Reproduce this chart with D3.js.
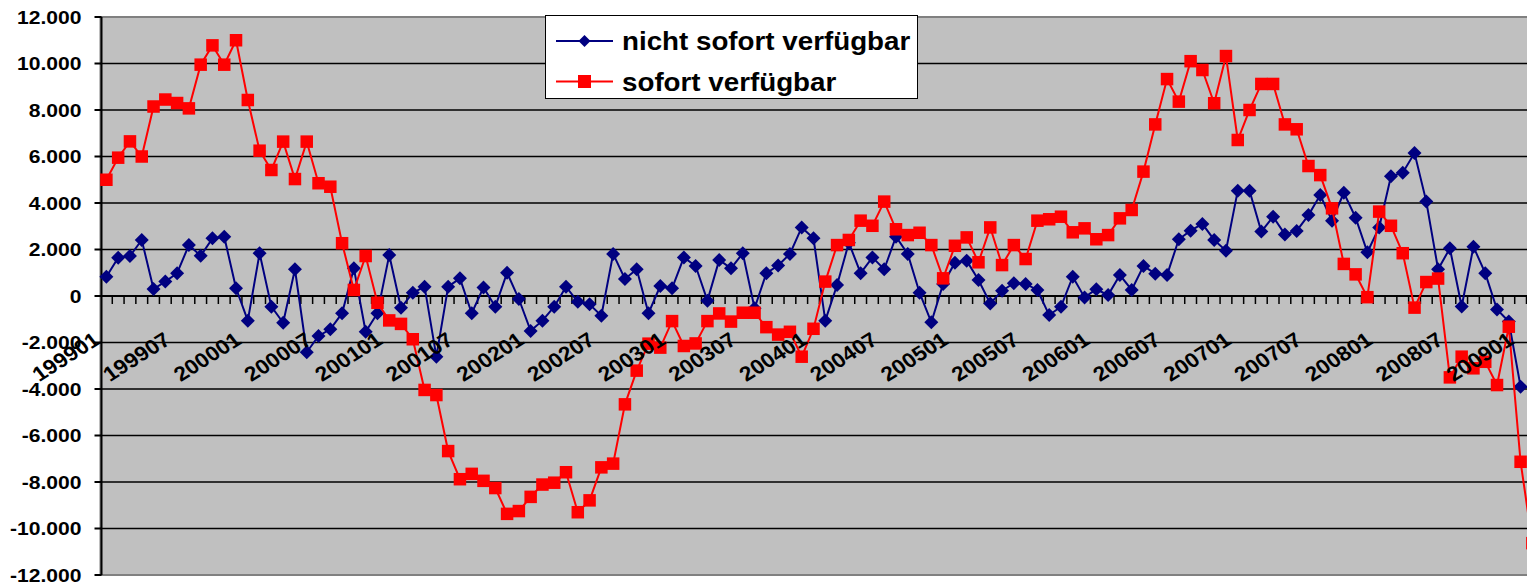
<!DOCTYPE html>
<html>
<head>
<meta charset="utf-8">
<script src="https://cdn.jsdelivr.net/npm/d3@7"></script>
<style>
  body { margin: 0; background: #fff; }
  text { font-family: "Liberation Sans", Arial, sans-serif; font-weight: bold; fill: #000; }
</style>
</head>
<body>
<div id="chart"></div>
<script>
// monthly categories 199901 .. 200902
const months = d3.timeMonth.range(new Date(1999, 0, 1), new Date(2009, 2, 1)).map(d3.timeFormat("%Y%m"));

const xTickLabels = ["199901", "199907", "200001", "200007", "200101", "200107", "200201", "200207",
  "200301", "200307", "200401", "200407", "200501", "200507", "200601", "200607",
  "200701", "200707", "200801", "200807", "200901"];

const yTicks = [-12000, -10000, -8000, -6000, -4000, -2000, 0, 2000, 4000, 6000, 8000, 10000, 12000];

const seriesNames = ["nicht sofort verfügbar", "sofort verfügbar"];

// nicht sofort verfügbar (199901 .. 200901)
const nichtSofort = [
  830, 1650, 1720, 2410, 300, 620, 980, 2190, 1730, 2480, 2550, 330,
  -1060, 1840, -460, -1150, 1150, -2420, -1720, -1430, -740, 1190, -1540, -740,
  1760, -510, 140, 400, -2610, 400, 760, -740, 370, -460, 1000, -130,
  -1500, -1060, -460, 400, -250, -360, -850, 1810, 730, 1150, -740, 430,
  330, 1660, 1290, -200, 1550, 1190, 1840, -530, 980, 1310, 1810, 2950,
  2480, -1060, 470, 2290, 980, 1660, 1150, 2550, 1810, 140, -1130, 520,
  1430, 1520, 690, -320, 230, 550, 520, 260, -820, -460, 830, -60,
  290, 40, 900, 260, 1290, 960, 900, 2440, 2810, 3100, 2410, 1950,
  4530, 4530, 2770, 3410, 2650, 2800, 3480, 4340, 3240, 4440, 3370, 1880,
  2950, 5150, 5300, 6150, 4060, 1150, 2050, -450, 2120, 980, -580, -1100,
  -3900
];

// sofort verfügbar (199901 .. 200902)
const sofort = [
  5000, 5950, 6650, 6000, 8150, 8450, 8300, 8070, 9950, 10780, 9950, 11000,
  8430, 6250, 5420, 6640, 5030, 6640, 4850, 4700, 2270, 260, 1720, -290,
  -1050, -1200, -1860, -4040, -4260, -6670, -7880, -7650, -7950, -8260, -9370, -9250,
  -8640, -8110, -8030, -7580, -9300, -8790, -7370, -7210, -4660, -3210, -2050, -2220,
  -1080, -2150, -2040, -1080, -750, -1100, -720, -720, -1340, -1660, -1540, -2610,
  -1410, 620, 2190, 2410, 3240, 3020, 4060, 2870, 2620, 2720, 2190, 760,
  2160, 2520, 1450, 2950, 1330, 2190, 1590, 3240, 3300, 3410, 2740, 2910,
  2440, 2620, 3340, 3700, 5350, 7380, 9330, 8360, 10100, 9720, 8290, 10320,
  6710, 8000, 9120, 9120, 7380, 7170, 5590, 5200, 3770, 1380, 930, -50,
  3630, 3020, 1840, -500, 600, 750, -3500, -2610, -3110, -2830, -3830, -1320,
  -7130, -10630
];

const width = 1527, height = 587;
const plot = {left: 100.5, top: 17, bottom: 575, step: 11.785};
const stretch = 1.11; // text in the picture is a bit wider than tall

const de = d3.formatLocale({decimal: ",", thousands: ".", grouping: [3], currency: ["", " €"], minus: "-"});
const fmt = de.format(",");

const svg = d3.select("#chart").append("svg")
  .attr("width", width)
  .attr("height", height);

const x = d3.scaleBand()
  .domain(months)
  .range([plot.left, plot.left + months.length * plot.step])
  .padding(0);

const y = d3.scaleLinear()
  .domain([-12000, 12000])
  .range([plot.bottom, plot.top]);

const cx = d => x(d) + x.bandwidth() / 2;
const plotRight = x.range()[1];

// plot area
svg.append("rect")
  .attr("x", plot.left)
  .attr("y", plot.top)
  .attr("width", plotRight - plot.left)
  .attr("height", plot.bottom - plot.top)
  .attr("fill", "#c0c0c0")
  .attr("stroke", "#808080")
  .attr("stroke-width", 2);

// gridlines
svg.append("g").selectAll("line")
  .data(yTicks.filter(v => v > -12000 && v < 12000))
  .enter().append("line")
  .attr("x1", plot.left)
  .attr("x2", plotRight)
  .attr("y1", d => y(d))
  .attr("y2", d => y(d))
  .attr("stroke", "#000")
  .attr("stroke-width", 1.6);

// y axis
const yAxis = svg.append("g").attr("transform", `translate(${plot.left + 1},0)`);
yAxis.append("line")
  .attr("y1", plot.top).attr("y2", plot.bottom)
  .attr("stroke", "#000").attr("stroke-width", 2);
yAxis.selectAll(".tick").data(yTicks).enter().append("line")
  .attr("x1", -7).attr("x2", 0)
  .attr("y1", d => y(d)).attr("y2", d => y(d))
  .attr("stroke", "#000").attr("stroke-width", 2);
yAxis.selectAll("text").data(yTicks).enter().append("text")
  .attr("transform", d => `translate(-20,${y(d) + 6.8}) scale(${stretch},1)`)
  .attr("text-anchor", "end")
  .style("font-size", "19px")
  .text(d => fmt(d));

// x axis at zero
const xAxis = svg.append("g");
xAxis.append("line")
  .attr("x1", plot.left).attr("x2", plotRight)
  .attr("y1", y(0)).attr("y2", y(0))
  .attr("stroke", "#000").attr("stroke-width", 2);
xAxis.selectAll("line.tick").data(months).enter().append("line")
  .attr("class", "tick")
  .attr("x1", d => x(d) + x.bandwidth()).attr("x2", d => x(d) + x.bandwidth())
  .attr("y1", y(0)).attr("y2", y(0) + 8)
  .attr("stroke", "#000").attr("stroke-width", 1.5);

// series
const line = d3.line()
  .x((d, i) => cx(months[i]))
  .y(d => y(d));

svg.append("path")
  .datum(nichtSofort)
  .attr("d", line)
  .attr("fill", "none")
  .attr("stroke", "#000080")
  .attr("stroke-width", 2);

const diamond = "M0,-7L7,0L0,7L-7,0Z";
svg.append("g").selectAll("path")
  .data(nichtSofort)
  .enter().append("path")
  .attr("d", diamond)
  .attr("transform", (d, i) => `translate(${cx(months[i])},${y(d)})`)
  .attr("fill", "#000080");

svg.append("path")
  .datum(sofort)
  .attr("d", line)
  .attr("fill", "none")
  .attr("stroke", "#ff0000")
  .attr("stroke-width", 2);

const sq = 12.5;
svg.append("g").selectAll("rect")
  .data(sofort)
  .enter().append("rect")
  .attr("x", (d, i) => cx(months[i]) - sq / 2)
  .attr("y", d => y(d) - sq / 2)
  .attr("width", sq)
  .attr("height", sq)
  .attr("fill", "#ff0000");

// x labels, rotated
svg.append("g").selectAll("text")
  .data(xTickLabels)
  .enter().append("text")
  .attr("transform", d => `translate(${cx(d) - 5},${y(0) + 47}) scale(${stretch},1) rotate(-35)`)
  .attr("text-anchor", "end")
  .style("font-size", "20.5px")
  .text(d => d);

// legend
const legend = svg.append("g");
legend.append("rect")
  .attr("x", 545.5).attr("y", 15.5)
  .attr("width", 372).attr("height", 83)
  .attr("fill", "#fff").attr("stroke", "#000").attr("stroke-width", 1);

const legendRows = [
  {name: seriesNames[0], color: "#000080", y: 41, marker: "diamond"},
  {name: seriesNames[1], color: "#ff0000", y: 81.5, marker: "square"}
];
legendRows.forEach(r => {
  legend.append("line")
    .attr("x1", 556).attr("x2", 613)
    .attr("y1", r.y).attr("y2", r.y)
    .attr("stroke", r.color).attr("stroke-width", 2);
  if (r.marker === "diamond") {
    legend.append("path")
      .attr("d", "M0,-6L6,0L0,6L-6,0Z")
      .attr("transform", `translate(584.5,${r.y})`)
      .attr("fill", r.color);
  } else {
    legend.append("rect")
      .attr("x", 584.5 - 6.5).attr("y", r.y - 6.5)
      .attr("width", 13).attr("height", 13)
      .attr("fill", r.color);
  }
  legend.append("text")
    .attr("transform", `translate(622,${r.y + 9}) scale(${stretch},1)`)
    .style("font-size", "25px")
    .text(r.name);
});
</script>
</body>
</html>
